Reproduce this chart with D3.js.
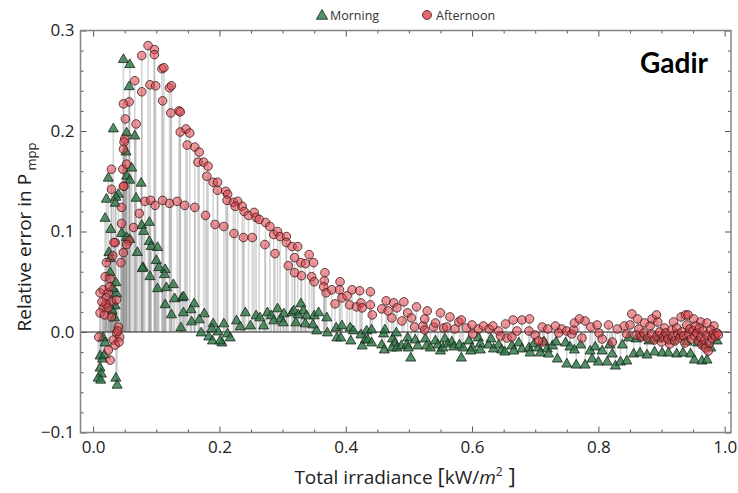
<!DOCTYPE html>
<html><head><meta charset="utf-8">
<script src="https://cdn.jsdelivr.net/npm/d3@7"></script>
<style>body{margin:0;background:#fff}svg{display:block}</style>
</head><body><svg id="c" width="738" height="493"></svg>
<script>
const morningX=[0.048,0.058,0.057,0.032,0.053,0.066,0.052,0.061,0.024,0.053,0.058,0.076,0.040,0.036,0.021,0.035,0.068,0.019,0.089,0.077,0.080,0.028,0.045,0.053,0.058,0.089,0.092,0.102,0.070,0.025,0.027,0.100,0.104,0.079,0.114,0.113,0.078,0.090,0.102,0.116,0.127,0.129,0.141,0.143,0.114,0.124,0.143,0.155,0.160,0.176,0.156,0.139,0.168,0.171,0.190,0.207,0.183,0.189,0.198,0.204,0.201,0.188,0.213,0.217,0.227,0.233,0.241,0.249,0.258,0.264,0.270,0.276,0.282,0.286,0.292,0.297,0.301,0.302,0.315,0.318,0.321,0.325,0.329,0.333,0.338,0.336,0.350,0.357,0.348,0.354,0.370,0.371,0.385,0.394,0.386,0.392,0.407,0.408,0.412,0.424,0.426,0.431,0.433,0.441,0.435,0.441,0.460,0.462,0.457,0.461,0.474,0.478,0.480,0.473,0.481,0.488,0.498,0.497,0.499,0.503,0.510,0.514,0.526,0.528,0.534,0.542,0.546,0.550,0.554,0.557,0.562,0.568,0.571,0.580,0.583,0.586,0.595,0.600,0.598,0.610,0.613,0.613,0.626,0.630,0.634,0.642,0.647,0.652,0.663,0.666,0.674,0.679,0.690,0.692,0.698,0.705,0.708,0.714,0.719,0.721,0.727,0.733,0.735,0.748,0.750,0.755,0.762,0.765,0.772,0.779,0.787,0.790,0.795,0.800,0.806,0.814,0.818,0.822,0.827,0.835,0.838,0.845,0.848,0.856,0.860,0.866,0.870,0.877,0.880,0.889,0.893,0.901,0.905,0.911,0.916,0.924,0.928,0.934,0.940,0.946,0.952,0.957,0.964,0.968,0.972,0.978,0.988,0.016,0.019,0.011,0.015,0.018,0.011,0.013,0.008,0.012,0.036,0.038,0.037,0.035,0.034,0.031,0.030,0.027,0.036];
const morningY=[0.272,0.267,0.245,0.203,0.199,0.196,0.180,0.164,0.154,0.156,0.152,0.149,0.138,0.135,0.133,0.129,0.134,0.114,0.110,0.107,0.101,0.103,0.099,0.095,0.093,0.091,0.086,0.085,0.080,0.080,0.074,0.072,0.065,0.065,0.063,0.058,0.064,0.056,0.044,0.045,0.048,0.034,0.035,0.036,0.028,0.018,0.020,0.023,0.029,0.019,0.011,0.005,0.013,0.000,0.009,0.009,-0.004,-0.008,0.001,-0.010,-0.008,0.004,-0.001,-0.005,0.012,0.006,0.020,0.007,0.017,0.015,0.007,0.020,0.017,0.012,0.024,0.014,0.010,0.019,0.020,0.022,0.010,0.018,0.029,0.022,0.017,0.009,0.017,0.020,0.008,0.002,0.015,0.000,0.005,0.007,-0.005,-0.005,0.005,-0.008,0.002,-0.002,-0.013,-0.007,0.002,0.003,-0.007,-0.010,-0.001,0.003,-0.012,-0.017,-0.006,-0.010,0.000,-0.015,-0.015,-0.013,-0.005,-0.012,-0.015,-0.025,-0.007,-0.013,-0.006,-0.013,-0.015,-0.008,-0.012,-0.018,-0.015,-0.006,-0.011,-0.009,-0.014,-0.012,-0.025,-0.015,-0.008,-0.015,-0.018,-0.005,-0.011,-0.017,-0.012,-0.006,-0.016,-0.012,-0.017,-0.019,-0.013,-0.018,-0.010,-0.016,-0.015,-0.020,-0.011,-0.015,-0.020,-0.009,-0.016,-0.021,-0.013,-0.009,-0.026,-0.010,-0.031,-0.014,-0.017,-0.032,-0.012,-0.032,-0.018,-0.026,-0.014,-0.029,-0.018,-0.029,-0.012,-0.021,-0.033,-0.029,-0.012,-0.028,-0.005,-0.021,-0.006,-0.020,-0.004,-0.022,-0.008,-0.019,-0.006,-0.020,-0.003,-0.020,-0.008,-0.021,-0.004,-0.020,-0.009,-0.021,-0.027,-0.010,-0.028,-0.012,-0.027,-0.015,-0.008,-0.005,-0.010,-0.023,-0.026,-0.022,-0.035,-0.041,-0.045,-0.047,-0.045,-0.052,0.039,0.027,0.015,0.044,0.022,0.060,0.050];
const afternoonX=[0.087,0.097,0.097,0.077,0.109,0.112,0.066,0.077,0.090,0.099,0.121,0.124,0.110,0.057,0.136,0.138,0.123,0.068,0.051,0.138,0.147,0.153,0.149,0.161,0.168,0.166,0.175,0.182,0.180,0.190,0.197,0.197,0.210,0.213,0.212,0.222,0.229,0.225,0.236,0.239,0.246,0.255,0.258,0.263,0.273,0.280,0.286,0.292,0.296,0.306,0.306,0.315,0.324,0.342,0.349,0.329,0.336,0.319,0.050,0.049,0.048,0.047,0.029,0.029,0.049,0.045,0.045,0.064,0.048,0.053,0.048,0.073,0.082,0.091,0.098,0.110,0.121,0.133,0.145,0.161,0.178,0.193,0.207,0.223,0.238,0.252,0.272,0.288,0.309,0.319,0.330,0.346,0.350,0.367,0.366,0.365,0.369,0.378,0.391,0.390,0.383,0.394,0.402,0.410,0.406,0.417,0.422,0.424,0.426,0.439,0.439,0.442,0.457,0.464,0.467,0.473,0.476,0.481,0.492,0.489,0.498,0.504,0.512,0.509,0.522,0.525,0.529,0.525,0.539,0.542,0.550,0.555,0.560,0.565,0.573,0.579,0.583,0.591,0.600,0.601,0.610,0.618,0.627,0.633,0.642,0.645,0.653,0.655,0.663,0.665,0.671,0.679,0.690,0.691,0.700,0.711,0.720,0.712,0.705,0.732,0.742,0.737,0.750,0.758,0.761,0.762,0.770,0.779,0.774,0.788,0.798,0.801,0.806,0.816,0.822,0.830,0.841,0.845,0.850,0.853,0.862,0.864,0.873,0.882,0.885,0.892,0.894,0.905,0.919,0.931,0.938,0.942,0.951,0.962,0.972,0.983,0.860,0.868,0.872,0.878,0.884,0.888,0.893,0.897,0.900,0.903,0.907,0.910,0.913,0.916,0.918,0.921,0.924,0.926,0.929,0.932,0.935,0.937,0.940,0.943,0.945,0.947,0.950,0.952,0.954,0.956,0.958,0.960,0.962,0.964,0.966,0.968,0.970,0.972,0.974,0.976,0.978,0.980,0.982,0.985,0.988,0.990,0.035,0.048,0.021,0.044,0.031,0.033,0.057,0.053,0.019,0.027,0.011,0.016,0.024,0.021,0.029,0.037,0.016,0.024,0.011,0.020,0.029,0.014,0.018,0.026,0.040,0.037,0.042,0.009,0.032,0.035,0.024,0.027,0.039,0.041];
const afternoonY=[0.285,0.281,0.276,0.275,0.262,0.263,0.250,0.239,0.246,0.245,0.243,0.245,0.230,0.229,0.220,0.219,0.218,0.207,0.212,0.199,0.202,0.198,0.186,0.184,0.179,0.169,0.169,0.165,0.155,0.149,0.149,0.141,0.140,0.137,0.131,0.129,0.130,0.125,0.125,0.120,0.116,0.119,0.114,0.112,0.109,0.105,0.097,0.100,0.095,0.095,0.089,0.085,0.085,0.077,0.069,0.069,0.068,0.074,0.192,0.189,0.182,0.162,0.162,0.142,0.145,0.124,0.108,0.104,0.227,0.167,0.145,0.118,0.130,0.131,0.126,0.131,0.128,0.130,0.126,0.124,0.116,0.107,0.105,0.098,0.094,0.094,0.087,0.078,0.066,0.059,0.056,0.055,0.050,0.059,0.051,0.045,0.039,0.042,0.050,0.042,0.028,0.034,0.036,0.042,0.027,0.025,0.041,0.029,0.024,0.040,0.027,0.017,0.023,0.031,0.021,0.014,0.029,0.024,0.030,0.011,0.019,0.014,0.025,0.005,0.006,0.013,0.021,0.002,0.005,0.009,0.019,0.004,0.005,0.015,0.003,0.010,0.012,0.004,0.007,-0.002,0.003,0.006,0.003,0.006,0.001,-0.004,0.008,-0.006,-0.005,0.012,0.001,0.012,0.001,0.013,-0.003,0.005,0.003,-0.010,-0.009,0.006,0.003,-0.001,0.001,-0.002,0.002,0.009,0.013,0.011,-0.006,0.005,0.007,-0.001,-0.007,0.007,-0.010,0.003,0.006,-0.002,0.007,0.018,0.013,0.003,0.009,0.006,0.013,0.017,0.010,0.004,0.010,0.015,0.017,0.017,0.013,0.010,0.009,0.006,-0.003,-0.005,-0.001,-0.006,-0.002,-0.008,-0.004,0.000,-0.010,-0.005,-0.001,-0.007,-0.012,0.002,-0.004,-0.009,0.004,-0.002,-0.006,0.000,-0.004,-0.011,0.007,-0.002,0.003,-0.007,0.001,-0.004,0.006,-0.001,-0.009,0.004,-0.005,-0.013,0.001,-0.008,-0.016,-0.003,-0.019,-0.011,0.002,-0.006,-0.002,-0.004,-0.001,-0.003,0.089,0.079,0.069,0.069,0.076,0.089,0.091,0.087,0.055,0.053,0.039,0.042,0.039,0.034,0.030,0.032,0.024,0.024,0.019,0.028,0.015,0.030,0.017,0.045,0.005,-0.001,-0.005,-0.005,-0.008,-0.013,-0.018,-0.028,0.001,-0.010];
const xTicks=[0,0.2,0.4,0.6,0.8,1.0];
const yTicks=[-0.1,0,0.1,0.2,0.3];
const seriesNames=["Morning","Afternoon"];

const svg=d3.select("#c");
const L=80.5,R=731,T=30.5,B=432.5;
const x=d3.scaleLinear().domain([-0.02,1.01]).range([L,R]);
const y=d3.scaleLinear().domain([-0.1,0.3]).range([B,T]);
const font="'Open Sans', sans-serif";

const morning=morningX.map((v,i)=>({x:v,y:morningY[i]}));
const afternoon=afternoonX.map((v,i)=>({x:v,y:afternoonY[i]}));

const g=svg.append("g");
g.selectAll("line.drop").data(morning.concat(afternoon)).join("line")
 .attr("x1",d=>x(d.x)).attr("x2",d=>x(d.x)).attr("y1",d=>y(d.y)).attr("y2",y(0))
 .attr("stroke","rgb(145,145,145)").attr("stroke-opacity",0.38).attr("stroke-width",1.6);

svg.append("line").attr("x1",L).attr("x2",R).attr("y1",y(0)).attr("y2",y(0)).attr("stroke","#222").attr("stroke-width",1.1);

const tri=d3.symbol().type(d3.symbolTriangle).size(44);
svg.append("g").selectAll("path").data(morning).join("path")
 .attr("d",tri).attr("transform",d=>`translate(${x(d.x)},${y(d.y)+1})`)
 .attr("fill","#2a7442").attr("fill-opacity",0.8).attr("stroke","#17261b").attr("stroke-width",0.8);
svg.append("g").selectAll("circle").data(afternoon).join("circle")
 .attr("cx",d=>x(d.x)).attr("cy",d=>y(d.y)).attr("r",4.3)
 .attr("fill","#e0414a").attr("fill-opacity",0.55).attr("stroke","#3a1a1a").attr("stroke-width",0.8);

function styleAx(sel,showLabels){
  sel.select(".domain").remove();
  sel.selectAll(".tick line").attr("stroke","#555").attr("stroke-width",1);
  sel.selectAll("text").attr("font-family",font).attr("font-size",17).attr("fill","#222");
  if(!showLabels) sel.selectAll("text").remove();
}
const fmt=d=>d3.format(".1f")(d);
const xMinor=d3.range(0,1.001,0.05).filter(v=>Math.abs(v*5-Math.round(v*5))>1e-6);
const yMinor=d3.range(-0.1,0.3001,0.02).filter(v=>Math.abs(v*10-Math.round(v*10))>1e-6);

svg.append("g").attr("transform",`translate(0,${B})`).call(d3.axisBottom(x).tickValues(xTicks).tickSize(-6).tickPadding(8).tickFormat(fmt)).call(s=>styleAx(s,true));
svg.append("g").attr("transform",`translate(0,${B})`).call(d3.axisBottom(x).tickValues(xMinor).tickSize(-3).tickFormat("")).call(s=>styleAx(s,false));
svg.append("g").attr("transform",`translate(0,${T})`).call(d3.axisTop(x).tickValues(xTicks).tickSize(-6).tickFormat("")).call(s=>styleAx(s,false));
svg.append("g").attr("transform",`translate(0,${T})`).call(d3.axisTop(x).tickValues(xMinor).tickSize(-3).tickFormat("")).call(s=>styleAx(s,false));
svg.append("g").attr("transform",`translate(${L},0)`).call(d3.axisLeft(y).tickValues(yTicks).tickSize(-6).tickPadding(6).tickFormat(fmt)).call(s=>styleAx(s,true));
svg.append("g").attr("transform",`translate(${L},0)`).call(d3.axisLeft(y).tickValues(yMinor).tickSize(-3).tickFormat("")).call(s=>styleAx(s,false));
svg.append("g").attr("transform",`translate(${R},0)`).call(d3.axisRight(y).tickValues(yTicks).tickSize(-6).tickFormat("")).call(s=>styleAx(s,false));
svg.append("g").attr("transform",`translate(${R},0)`).call(d3.axisRight(y).tickValues(yMinor).tickSize(-3).tickFormat("")).call(s=>styleAx(s,false));

svg.append("rect").attr("x",L).attr("y",T).attr("width",R-L).attr("height",B-T).attr("fill","none").attr("stroke","#858585").attr("stroke-width",1.5);

const xt=svg.append("text").attr("x",405).attr("y",484).attr("text-anchor","middle").attr("font-family",font).attr("font-size",19).attr("fill","#222");
xt.append("tspan").text("Total irradiance ");
xt.append("tspan").attr("font-size",22).text("[");
xt.append("tspan").text("kW/");
xt.append("tspan").attr("font-style","italic").text("m");
xt.append("tspan").attr("font-size",12).attr("dy",-8).text("2");
xt.append("tspan").attr("font-size",22).attr("dy",8).text(" ]");

const yt=svg.append("text").attr("transform","translate(31,237) rotate(-90)").attr("text-anchor","middle").attr("font-family",font).attr("font-size",19).attr("fill","#222");
yt.append("tspan").text("Relative error in  P");
yt.append("tspan").attr("font-size",13).attr("dy",5).text(" mpp");

const lg=svg.append("g").attr("font-family",font).attr("font-size",12.5).attr("fill","#333");
lg.append("path").attr("d",d3.symbol().type(d3.symbolTriangle).size(55)).attr("transform","translate(322,16)").attr("fill","#2a7442").attr("fill-opacity",0.8).attr("stroke","#17261b").attr("stroke-width",0.8);
lg.append("text").attr("x",330).attr("y",20).text(seriesNames[0]);
lg.append("circle").attr("cx",427).attr("cy",15).attr("r",4.5).attr("fill","#e0414a").attr("fill-opacity",0.8).attr("stroke","#3a1a1a").attr("stroke-width",0.8);
lg.append("text").attr("x",436).attr("y",20).text(seriesNames[1]);

svg.append("text").attr("x",708).attr("y",73).attr("text-anchor","end").attr("font-family","Lato, sans-serif").attr("font-weight","bold").attr("font-size",28).attr("fill","#000").text("Gadir");
</script></body></html>
